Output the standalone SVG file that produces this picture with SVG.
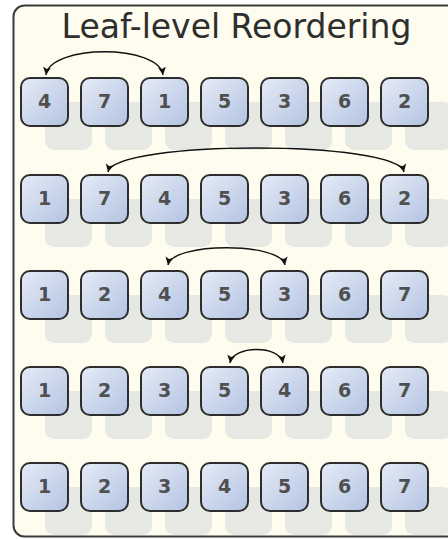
<svg xmlns="http://www.w3.org/2000/svg" width="448" height="539" viewBox="0 0 448 539">
<style>
.sh{fill:#e6e8e4}
.bx{fill:url(#g);stroke:#2e2e2e;stroke-width:2}
.n{font-family:"DejaVu Sans",Verdana,sans-serif;font-size:19px;font-weight:bold;fill:#505050;text-anchor:middle}
.arc{fill:none;stroke:#111;stroke-width:1.4;marker-start:url(#ah);marker-end:url(#ah)}
</style>
<defs>
<linearGradient id="g" x1="0" y1="0" x2="1" y2="1">
<stop offset="0" stop-color="#e6ecf6"/>
<stop offset="1" stop-color="#b3c3e2"/>
</linearGradient>
<marker id="ah" viewBox="0 0 10 10" refX="10" refY="5" markerWidth="8" markerHeight="8" markerUnits="userSpaceOnUse" orient="auto-start-reverse">
<path d="M0,0 L10,5 L0,10 L2.5,5 z" fill="#111"/>
</marker>
</defs>
<rect x="0" y="0" width="448" height="539" fill="#ffffff"/>
<g id="frame">
<rect x="13.5" y="5.5" width="470" height="531" rx="11" fill="#fefcef" stroke="#3a3a3a" stroke-width="2"/>
</g>
<text x="236.5" y="38" font-family="DejaVu Sans,Verdana,sans-serif" font-size="33" fill="#2e2e2e" text-anchor="middle">Leaf-level Reordering</text>
<g id="shadows">
<g id="sh-r1"><rect class="sh" x="45" y="102" width="47" height="48" rx="9"/><rect class="sh" x="105" y="102" width="47" height="48" rx="9"/><rect class="sh" x="165" y="102" width="47" height="48" rx="9"/><rect class="sh" x="225" y="102" width="47" height="48" rx="9"/><rect class="sh" x="285" y="102" width="47" height="48" rx="9"/><rect class="sh" x="345" y="102" width="47" height="48" rx="9"/><rect class="sh" x="405" y="102" width="47" height="48" rx="9"/></g>
<g id="sh-r2"><rect class="sh" x="45" y="199" width="47" height="48" rx="9"/><rect class="sh" x="105" y="199" width="47" height="48" rx="9"/><rect class="sh" x="165" y="199" width="47" height="48" rx="9"/><rect class="sh" x="225" y="199" width="47" height="48" rx="9"/><rect class="sh" x="285" y="199" width="47" height="48" rx="9"/><rect class="sh" x="345" y="199" width="47" height="48" rx="9"/><rect class="sh" x="405" y="199" width="47" height="48" rx="9"/></g>
<g id="sh-r3"><rect class="sh" x="45" y="295" width="47" height="48" rx="9"/><rect class="sh" x="105" y="295" width="47" height="48" rx="9"/><rect class="sh" x="165" y="295" width="47" height="48" rx="9"/><rect class="sh" x="225" y="295" width="47" height="48" rx="9"/><rect class="sh" x="285" y="295" width="47" height="48" rx="9"/><rect class="sh" x="345" y="295" width="47" height="48" rx="9"/><rect class="sh" x="405" y="295" width="47" height="48" rx="9"/></g>
<g id="sh-r4"><rect class="sh" x="45" y="391" width="47" height="48" rx="9"/><rect class="sh" x="105" y="391" width="47" height="48" rx="9"/><rect class="sh" x="165" y="391" width="47" height="48" rx="9"/><rect class="sh" x="225" y="391" width="47" height="48" rx="9"/><rect class="sh" x="285" y="391" width="47" height="48" rx="9"/><rect class="sh" x="345" y="391" width="47" height="48" rx="9"/><rect class="sh" x="405" y="391" width="47" height="48" rx="9"/></g>
<g id="sh-r5"><rect class="sh" x="45" y="487" width="47" height="48" rx="9"/><rect class="sh" x="105" y="487" width="47" height="48" rx="9"/><rect class="sh" x="165" y="487" width="47" height="48" rx="9"/><rect class="sh" x="225" y="487" width="47" height="48" rx="9"/><rect class="sh" x="285" y="487" width="47" height="48" rx="9"/><rect class="sh" x="345" y="487" width="47" height="48" rx="9"/><rect class="sh" x="405" y="487" width="47" height="48" rx="9"/></g>
</g>
<g id="row1">
<g id="r1c1"><rect class="bx" x="21" y="78" width="47" height="48" rx="9"/><text class="n" x="44.5" y="108">4</text></g>
<g id="r1c2"><rect class="bx" x="81" y="78" width="47" height="48" rx="9"/><text class="n" x="104.5" y="108">7</text></g>
<g id="r1c3"><rect class="bx" x="141" y="78" width="47" height="48" rx="9"/><text class="n" x="164.5" y="108">1</text></g>
<g id="r1c4"><rect class="bx" x="201" y="78" width="47" height="48" rx="9"/><text class="n" x="224.5" y="108">5</text></g>
<g id="r1c5"><rect class="bx" x="261" y="78" width="47" height="48" rx="9"/><text class="n" x="284.5" y="108">3</text></g>
<g id="r1c6"><rect class="bx" x="321" y="78" width="47" height="48" rx="9"/><text class="n" x="344.5" y="108">6</text></g>
<g id="r1c7"><rect class="bx" x="381" y="78" width="47" height="48" rx="9"/><text class="n" x="404.5" y="108">2</text></g>
</g>
<g id="row2">
<g id="r2c1"><rect class="bx" x="21" y="175" width="47" height="48" rx="9"/><text class="n" x="44.5" y="205">1</text></g>
<g id="r2c2"><rect class="bx" x="81" y="175" width="47" height="48" rx="9"/><text class="n" x="104.5" y="205">7</text></g>
<g id="r2c3"><rect class="bx" x="141" y="175" width="47" height="48" rx="9"/><text class="n" x="164.5" y="205">4</text></g>
<g id="r2c4"><rect class="bx" x="201" y="175" width="47" height="48" rx="9"/><text class="n" x="224.5" y="205">5</text></g>
<g id="r2c5"><rect class="bx" x="261" y="175" width="47" height="48" rx="9"/><text class="n" x="284.5" y="205">3</text></g>
<g id="r2c6"><rect class="bx" x="321" y="175" width="47" height="48" rx="9"/><text class="n" x="344.5" y="205">6</text></g>
<g id="r2c7"><rect class="bx" x="381" y="175" width="47" height="48" rx="9"/><text class="n" x="404.5" y="205">2</text></g>
</g>
<g id="row3">
<g id="r3c1"><rect class="bx" x="21" y="271" width="47" height="48" rx="9"/><text class="n" x="44.5" y="301">1</text></g>
<g id="r3c2"><rect class="bx" x="81" y="271" width="47" height="48" rx="9"/><text class="n" x="104.5" y="301">2</text></g>
<g id="r3c3"><rect class="bx" x="141" y="271" width="47" height="48" rx="9"/><text class="n" x="164.5" y="301">4</text></g>
<g id="r3c4"><rect class="bx" x="201" y="271" width="47" height="48" rx="9"/><text class="n" x="224.5" y="301">5</text></g>
<g id="r3c5"><rect class="bx" x="261" y="271" width="47" height="48" rx="9"/><text class="n" x="284.5" y="301">3</text></g>
<g id="r3c6"><rect class="bx" x="321" y="271" width="47" height="48" rx="9"/><text class="n" x="344.5" y="301">6</text></g>
<g id="r3c7"><rect class="bx" x="381" y="271" width="47" height="48" rx="9"/><text class="n" x="404.5" y="301">7</text></g>
</g>
<g id="row4">
<g id="r4c1"><rect class="bx" x="21" y="367" width="47" height="48" rx="9"/><text class="n" x="44.5" y="397">1</text></g>
<g id="r4c2"><rect class="bx" x="81" y="367" width="47" height="48" rx="9"/><text class="n" x="104.5" y="397">2</text></g>
<g id="r4c3"><rect class="bx" x="141" y="367" width="47" height="48" rx="9"/><text class="n" x="164.5" y="397">3</text></g>
<g id="r4c4"><rect class="bx" x="201" y="367" width="47" height="48" rx="9"/><text class="n" x="224.5" y="397">5</text></g>
<g id="r4c5"><rect class="bx" x="261" y="367" width="47" height="48" rx="9"/><text class="n" x="284.5" y="397">4</text></g>
<g id="r4c6"><rect class="bx" x="321" y="367" width="47" height="48" rx="9"/><text class="n" x="344.5" y="397">6</text></g>
<g id="r4c7"><rect class="bx" x="381" y="367" width="47" height="48" rx="9"/><text class="n" x="404.5" y="397">7</text></g>
</g>
<g id="row5">
<g id="r5c1"><rect class="bx" x="21" y="463" width="47" height="48" rx="9"/><text class="n" x="44.5" y="493">1</text></g>
<g id="r5c2"><rect class="bx" x="81" y="463" width="47" height="48" rx="9"/><text class="n" x="104.5" y="493">2</text></g>
<g id="r5c3"><rect class="bx" x="141" y="463" width="47" height="48" rx="9"/><text class="n" x="164.5" y="493">3</text></g>
<g id="r5c4"><rect class="bx" x="201" y="463" width="47" height="48" rx="9"/><text class="n" x="224.5" y="493">4</text></g>
<g id="r5c5"><rect class="bx" x="261" y="463" width="47" height="48" rx="9"/><text class="n" x="284.5" y="493">5</text></g>
<g id="r5c6"><rect class="bx" x="321" y="463" width="47" height="48" rx="9"/><text class="n" x="344.5" y="493">6</text></g>
<g id="r5c7"><rect class="bx" x="381" y="463" width="47" height="48" rx="9"/><text class="n" x="404.5" y="493">7</text></g>
</g>
<g id="connectors">
<path class="arc" d="M46,75 C50,44 159,44 163,75"/>
<path class="arc" d="M108,172 C115,140 397,140 404,172"/>
<path class="arc" d="M168,265 C172,242 281,242 285,265"/>
<path class="arc" d="M230,363 C233,345 280,345 283,363"/>
</g>
</svg>
